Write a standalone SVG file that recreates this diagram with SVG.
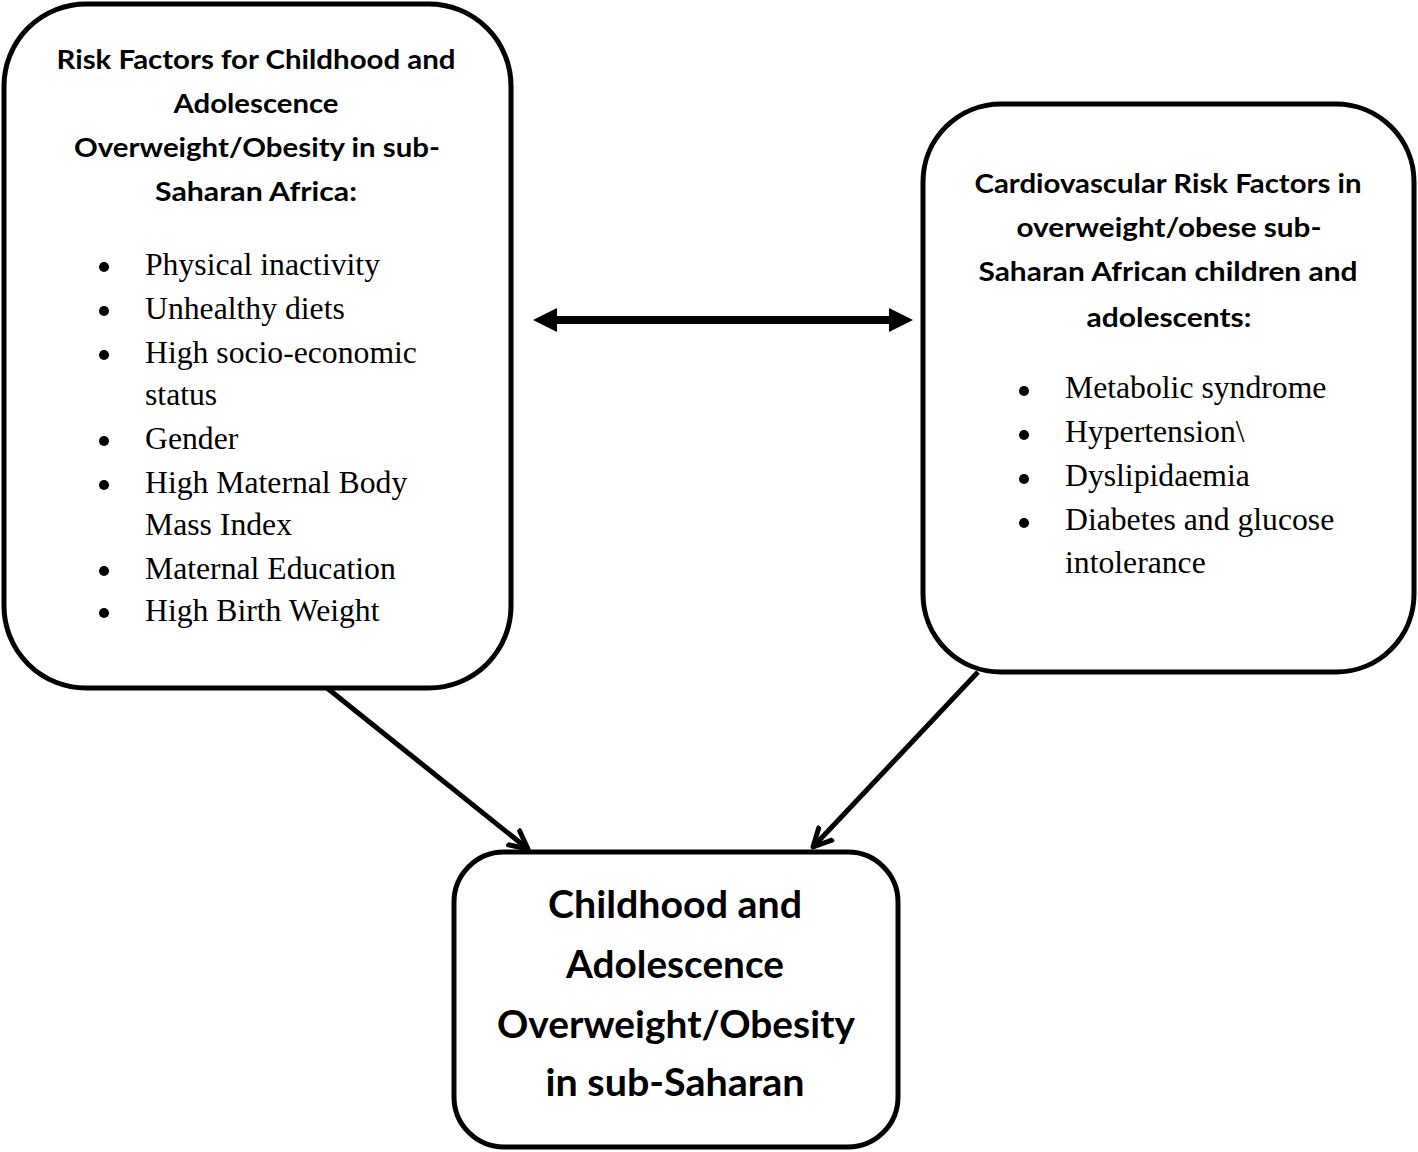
<svg xmlns="http://www.w3.org/2000/svg" width="1418" height="1152" viewBox="0 0 1418 1152">
<style>
.box{fill:#fff;stroke:#000;stroke-width:5}
.t{font-family:Lato,"Open Sans","Liberation Sans",sans-serif;font-weight:bold;font-size:26px;text-anchor:middle;fill:#000}
.tb{font-family:Lato,"Open Sans","Liberation Sans",sans-serif;font-weight:bold;font-size:38px;text-anchor:middle;fill:#000}
.s{font-family:"Liberation Serif","Times New Roman",serif;font-size:31.7px;fill:#000}
.dot{fill:#000}
.con{stroke:#000;fill:none}
</style>
<defs>
<marker id="open" markerUnits="userSpaceOnUse" markerWidth="30" markerHeight="30" refX="20" refY="10" orient="auto" viewBox="0 0 30 20">
<path d="M2,1 L20,10 L2,19" fill="none" stroke="#000" stroke-width="5" stroke-linecap="round" stroke-linejoin="round"/>
</marker>
</defs>

<g id="connectors">
<line class="con" x1="557" y1="320" x2="889" y2="320" stroke-width="8"/>
<path d="M533,320 L557,308 L557,332 Z" fill="#000"/>
<path d="M913,320 L889,308 L889,332 Z" fill="#000"/>
<line class="con" x1="327" y1="688" x2="528" y2="849" stroke-width="5" marker-end="url(#open)"/>
<line class="con" x1="978" y1="672" x2="813" y2="847" stroke-width="5" marker-end="url(#open)"/>
</g>

<g id="node-risk">
<rect class="box" x="4" y="4" width="507" height="684" rx="82" ry="82"/>
<text class="t" x="256" y="69" textLength="399" lengthAdjust="spacingAndGlyphs">Risk Factors for Childhood and</text>
<text class="t" x="256" y="113" textLength="165" lengthAdjust="spacingAndGlyphs">Adolescence</text>
<text class="t" x="257" y="157" textLength="366" lengthAdjust="spacingAndGlyphs">Overweight/Obesity in sub-</text>
<text class="t" x="256" y="201" textLength="202" lengthAdjust="spacingAndGlyphs">Saharan Africa:</text>
<circle class="dot" cx="104" cy="267" r="5"/>
<text class="s" x="145" y="275">Physical inactivity</text>
<circle class="dot" cx="104" cy="311" r="5"/>
<text class="s" x="145" y="319">Unhealthy diets</text>
<circle class="dot" cx="104" cy="355" r="5"/>
<text class="s" x="145" y="363">High socio-economic</text>
<text class="s" x="145" y="405">status</text>
<circle class="dot" cx="104" cy="441" r="5"/>
<text class="s" x="145" y="449">Gender</text>
<circle class="dot" cx="104" cy="485" r="5"/>
<text class="s" x="145" y="493">High Maternal Body</text>
<text class="s" x="145" y="535">Mass Index</text>
<circle class="dot" cx="104" cy="571" r="5"/>
<text class="s" x="145" y="579">Maternal Education</text>
<circle class="dot" cx="104" cy="613" r="5"/>
<text class="s" x="145" y="621">High Birth Weight</text>
</g>

<g id="node-cardio">
<rect class="box" x="923" y="104" width="491" height="568" rx="78" ry="78"/>
<text class="t" x="1168" y="193" textLength="387" lengthAdjust="spacingAndGlyphs">Cardiovascular Risk Factors in</text>
<text class="t" x="1169" y="237" textLength="305" lengthAdjust="spacingAndGlyphs">overweight/obese sub-</text>
<text class="t" x="1168" y="281" textLength="379" lengthAdjust="spacingAndGlyphs">Saharan African children and</text>
<text class="t" x="1169" y="327" textLength="165" lengthAdjust="spacingAndGlyphs">adolescents:</text>
<circle class="dot" cx="1024" cy="391" r="5"/>
<text class="s" x="1065" y="398">Metabolic syndrome</text>
<circle class="dot" cx="1024" cy="435" r="5"/>
<text class="s" x="1065" y="442">Hypertension\</text>
<circle class="dot" cx="1024" cy="479" r="5"/>
<text class="s" x="1065" y="486">Dyslipidaemia</text>
<circle class="dot" cx="1024" cy="523" r="5"/>
<text class="s" x="1065" y="530">Diabetes and glucose</text>
<text class="s" x="1065" y="573">intolerance</text>
</g>

<g id="node-outcome">
<rect class="box" x="454" y="852" width="444" height="295" rx="50" ry="50"/>
<text class="tb" x="675" y="918" textLength="254" lengthAdjust="spacingAndGlyphs">Childhood and</text>
<text class="tb" x="675" y="978" textLength="218" lengthAdjust="spacingAndGlyphs">Adolescence</text>
<text class="tb" x="676" y="1038" textLength="358" lengthAdjust="spacingAndGlyphs">Overweight/Obesity</text>
<text class="tb" x="675" y="1096" textLength="259" lengthAdjust="spacingAndGlyphs">in sub-Saharan</text>
</g>
</svg>
